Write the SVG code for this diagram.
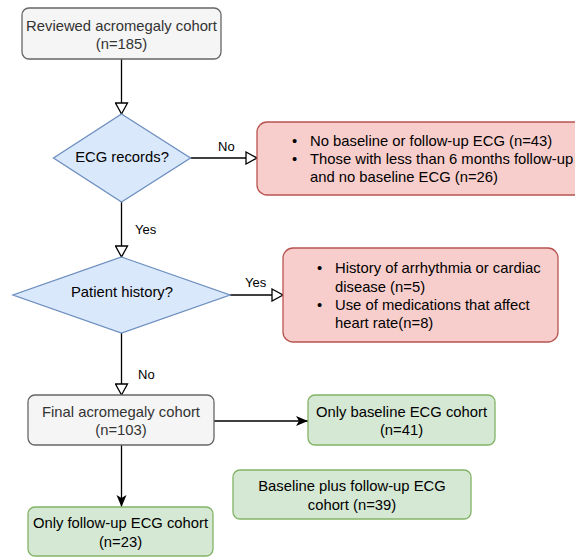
<svg xmlns="http://www.w3.org/2000/svg" width="575" height="557" viewBox="0 0 575 557">
<style>
text{font-family:"Liberation Sans",Arial,sans-serif;font-size:14.8px;fill:#000}
.c{text-anchor:middle}
.gt{fill:#333333}
.lbl{font-size:13px}
.gray{fill:#f5f5f5;stroke:#666666;stroke-width:1.3}
.blue{fill:#dae8fc;stroke:#6c8ebf;stroke-width:1.3}
.red{fill:#f8cecc;stroke:#b85450;stroke-width:1.3}
.green{fill:#d5e8d4;stroke:#82b366;stroke-width:1.3}
.edge{fill:none;stroke:#000;stroke-width:1.3}
</style>
<defs>
<marker id="open" markerUnits="userSpaceOnUse" markerWidth="14" markerHeight="14" refX="11" refY="6" orient="auto" viewBox="-1 -1 14 14">
<path d="M0,0 L11,6 L0,12 Z" fill="#fff" stroke="#000" stroke-width="1.3"/>
</marker>
<marker id="classic" markerUnits="userSpaceOnUse" markerWidth="14" markerHeight="12" refX="12" refY="5" orient="auto" viewBox="0 0 14 12">
<path d="M0,0 L12,5 L0,10 L3,5 Z" fill="#000"/>
</marker>
</defs>
<rect width="575" height="557" fill="#fff"/>
<g id="connectors">
<line class="edge" x1="121.5" y1="59" x2="121.5" y2="114" marker-end="url(#open)"/>
<line class="edge" x1="190.5" y1="158" x2="257" y2="158" marker-end="url(#open)"/>
<line class="edge" x1="121.5" y1="202" x2="121.5" y2="257" marker-end="url(#open)"/>
<line class="edge" x1="230" y1="295" x2="283" y2="295" marker-end="url(#open)"/>
<line class="edge" x1="121.5" y1="333" x2="121.5" y2="395" marker-end="url(#open)"/>
<line class="edge" x1="214" y1="421" x2="308" y2="421" marker-end="url(#classic)"/>
<line class="edge" x1="121.5" y1="445" x2="121.5" y2="507" marker-end="url(#classic)"/>
<text class="lbl" x="218" y="151">No</text>
<text class="lbl" x="135" y="234">Yes</text>
<text class="lbl" x="245" y="287">Yes</text>
<text class="lbl" x="138" y="379">No</text>
</g>
<g id="reviewed">
<rect class="gray" x="22" y="8" width="199" height="51" rx="7"/>
<text class="c gt" x="121.5" y="31">Reviewed acromegaly cohort</text>
<text class="c gt" x="121.5" y="49">(n=185)</text>
</g>
<g id="ecg-records">
<polygon class="blue" points="121.5,114 190.5,158 121.5,202 53.5,158"/>
<text class="c" x="122" y="162">ECG records?</text>
</g>
<g id="exclusion-1">
<rect class="red" x="257" y="122" width="335" height="73" rx="10"/>
<text x="292" y="146">•</text>
<text x="310" y="146">No baseline or follow-up ECG (n=43)</text>
<text x="292" y="164">•</text>
<text x="310" y="164">Those with less than 6 months follow-up</text>
<text x="310" y="182">and no baseline ECG (n=26)</text>
</g>
<g id="patient-history">
<polygon class="blue" points="121.5,257 230,295 121.5,333 13,295"/>
<text class="c" x="122" y="297">Patient history?</text>
</g>
<g id="exclusion-2">
<rect class="red" x="283" y="248" width="275" height="94" rx="10"/>
<text x="317" y="273">•</text>
<text x="335" y="273">History of arrhythmia or cardiac</text>
<text x="335" y="291.5">disease (n=5)</text>
<text x="317" y="310">•</text>
<text x="335" y="310">Use of medications that affect</text>
<text x="335" y="328">heart rate(n=8)</text>
</g>
<g id="final">
<rect class="gray" x="28" y="395" width="186" height="50" rx="7"/>
<text class="c gt" x="121" y="417">Final acromegaly cohort</text>
<text class="c gt" x="121" y="435">(n=103)</text>
</g>
<g id="only-baseline">
<rect class="green" x="308" y="395" width="187" height="50" rx="7"/>
<text class="c" x="401.5" y="417">Only baseline ECG cohort</text>
<text class="c" x="401.5" y="435">(n=41)</text>
</g>
<g id="baseline-plus">
<rect class="green" x="233" y="470" width="238" height="49" rx="7"/>
<text class="c" x="352" y="491">Baseline plus follow-up ECG</text>
<text class="c" x="352" y="510">cohort (n=39)</text>
</g>
<g id="only-followup">
<rect class="green" x="28" y="507" width="185" height="49" rx="7"/>
<text class="c" x="120.5" y="528">Only follow-up ECG cohort</text>
<text class="c" x="120.5" y="547">(n=23)</text>
</g>
</svg>
